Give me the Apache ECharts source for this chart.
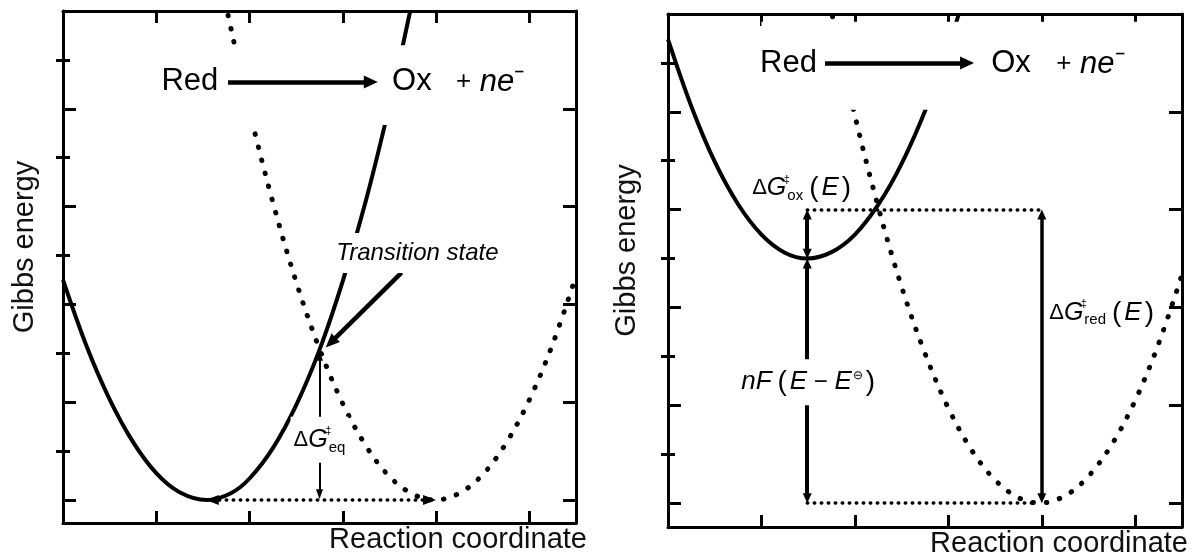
<!DOCTYPE html>
<html>
<head>
<meta charset="utf-8">
<script src="https://cdn.jsdelivr.net/npm/echarts@6/dist/echarts.min.js"></script>
<style>
html,body{margin:0;padding:0;background:#fff;}
#chart{width:1203px;height:559px;}
</style>
</head>
<body>
<div id="chart"></div>
<script>
// ---- data (reaction coordinate, Gibbs energy) ----
const leftRedCurve = [[0,4.50],[0.25,3.16],[0.5,2.06],[0.75,1.19],[1.0,0.55],[1.25,0.16],[1.54,0],[1.8,0.14],[2.0,0.44],[2.25,1.06],[2.5,1.94],[2.75,3.07],[3.0,4.48],[3.25,6.14],[3.5,8.07],[3.72,9.98]];
const leftOxCurve = [[1.77,9.91],[2.0,7.96],[2.25,6.09],[2.5,4.46],[2.75,3.09],[3.0,1.97],[3.25,1.10],[3.5,0.48],[3.75,0.12],[3.99,0],[4.25,0.14],[4.5,0.52],[4.75,1.16],[5.0,2.05],[5.25,3.19],[5.5,4.58]];
const rightRedCurve = [[0,9.48],[0.25,8.11],[0.5,6.98],[0.75,6.11],[1.0,5.49],[1.25,5.12],[1.49,5.0],[1.75,5.13],[2.0,5.49],[2.25,6.10],[2.5,6.94],[2.77,8.11],[3.0,9.33],[3.11,9.99]];
const rightOxCurve = [[1.76,9.95],[2.0,7.92],[2.25,6.05],[2.5,4.42],[2.75,3.06],[3.0,1.94],[3.25,1.08],[3.5,0.47],[3.75,0.11],[3.98,0],[4.25,0.15],[4.5,0.55],[4.75,1.20],[5.0,2.10],[5.25,3.26],[5.5,4.67]];

// key energy levels / positions
const leftRedMin = [1.54, 0];
const leftOxMin = [3.99, 0];
const leftTS = [2.75, 3.07];
const rightRedMin = [1.49, 5];
const rightOxMin = [3.99, 0];
const rightCross = 6;

// axis ticks
const xTicks = [1, 2, 3, 4, 5];
const yMajorTicks = [0, 2, 4, 6, 8];
const yMinorTicks = [1, 3, 5, 7, 9];

// texts
const yName = 'Gibbs energy';
const xName = 'Reaction coordinate';

const FONT = '"Liberation Sans", Arial, Helvetica, sans-serif';
const BLACK = '#000';

const chart = echarts.init(document.getElementById('chart'), null, {renderer: 'canvas'});

function xAxes(grid, nameGap) {
  const base = {
    type: 'value', gridIndex: grid, min: 0, max: 5.5,
    axisLabel: {show: false}, splitLine: {show: false},
    axisLine: {show: true, onZero: false, lineStyle: {color: BLACK, width: 3}},
    axisTick: {show: true, inside: true, length: 12, customValues: xTicks, lineStyle: {color: BLACK, width: 3}}
  };
  return [
    Object.assign({}, base, {position: 'bottom', name: xName, nameLocation: 'end', nameGap: nameGap,
      nameTextStyle: {fontFamily: FONT, fontSize: 29, color: '#111', align: 'right', verticalAlign: 'top', padding: [2, 0, 0, 0]}}),
    Object.assign({}, base, {position: 'top'})
  ];
}
function yAxes(grid, min, nameGap) {
  const base = {
    type: 'value', gridIndex: grid, min: min, max: 10,
    axisLabel: {show: false}, splitLine: {show: false}
  };
  const major = {show: true, inside: true, length: 13, customValues: yMajorTicks, lineStyle: {color: BLACK, width: 3}};
  const minor = {show: true, inside: true, length: 7, customValues: yMinorTicks, lineStyle: {color: BLACK, width: 3}};
  return [
    Object.assign({}, base, {position: 'left', axisLine: {show: true, onZero: false, lineStyle: {color: BLACK, width: 3}}, axisTick: major,
      name: yName, nameLocation: 'middle', nameGap: nameGap,
      nameTextStyle: {fontFamily: FONT, fontSize: 29, color: '#111', padding: [0, 0, 0, 40]}}),
    Object.assign({}, base, {position: 'left', axisLine: {show: false}, axisTick: minor}),
    Object.assign({}, base, {position: 'right', axisLine: {show: true, onZero: false, lineStyle: {color: BLACK, width: 3}}, axisTick: major}),
    Object.assign({}, base, {position: 'right', axisLine: {show: false}, axisTick: minor})
  ];
}

const solidStyle = {color: BLACK, width: 4};
const dotStyle = {color: BLACK, width: 5, type: [0.5, 13], cap: 'round'};
const fineDot = {color: BLACK, width: 3.5, type: [0.5, 6.5], cap: 'round'};

function seg(a, b, style, s1, s2, size) {
  return [
    {coord: a, symbol: s1, symbolSize: size, lineStyle: style},
    {coord: b, symbol: s2, symbolSize: size}
  ];
}

const baseRich = {
  d: {fontFamily: FONT, fontSize: 22, color: BLACK, lineHeight: 34},
  g: {fontFamily: FONT, fontSize: 25, fontStyle: 'italic', color: BLACK, lineHeight: 34},
  s: {fontFamily: FONT, fontSize: 11, color: BLACK, lineHeight: 34, verticalAlign: 'top', width: 1, padding: [3, 0, 0, 0]},
  b: {fontFamily: FONT, fontSize: 15, color: BLACK, lineHeight: 34, verticalAlign: 'bottom', padding: [0, 0, 2, 0]},
  q: {fontFamily: FONT, fontSize: 28, color: BLACK, lineHeight: 34, padding: [0, 3, 0, 6]},
  q2: {fontFamily: FONT, fontSize: 28, color: BLACK, lineHeight: 34, padding: [0, 0, 0, 3]},
  e: {fontFamily: FONT, fontSize: 26, fontStyle: 'italic', color: BLACK, lineHeight: 34},
  i: {fontFamily: FONT, fontSize: 26, fontStyle: 'italic', color: BLACK, lineHeight: 34},
  m: {fontFamily: FONT, fontSize: 24, color: BLACK, lineHeight: 34},
  o: {fontFamily: FONT, fontSize: 12, color: BLACK, lineHeight: 34, verticalAlign: 'top', padding: [4, 0, 0, 1]},
  p: {fontFamily: FONT, fontSize: 26, color: BLACK},
  n: {fontFamily: FONT, fontSize: 31, fontStyle: 'italic', color: BLACK}
};

function txt(coord, text, extra) {
  return {
    coord: coord,
    symbol: 'circle', symbolSize: 1, itemStyle: {color: 'rgba(0,0,0,0)'},
    label: Object.assign({show: true, position: 'inside', formatter: text, color: BLACK, fontFamily: FONT, fontSize: 31, rich: baseRich}, extra || {})
  };
}

function panelSeries(g, red, ox, cfg) {
  const xi = g * 2, yi = g * 4;
  return [
    {type: 'line', xAxisIndex: xi, yAxisIndex: yi, data: red, smooth: 0.35, showSymbol: false, symbol: 'none', lineStyle: solidStyle, z: 2, silent: true},
    {type: 'line', xAxisIndex: xi, yAxisIndex: yi, data: ox, smooth: 0.35, showSymbol: false, symbol: 'none', lineStyle: dotStyle, z: 2, silent: true},
    {
      type: 'line', xAxisIndex: xi, yAxisIndex: yi, data: [], z: 6, silent: true,
      markArea: {silent: true, z: 4, itemStyle: {color: '#fff'}, label: {show: false}, data: [cfg.band]},
      markLine: {silent: true, z: 6, label: {show: false}, animation: false, data: cfg.lines},
      markPoint: {silent: true, z: 8, animation: false, data: cfg.texts}
    }
  ];
}

const leftCfg = {
  band: [{coord: [0.95, 7.67]}, {coord: [5.1, 9.3]}],
  lines: [
    seg([1.77, 8.55], [3.30, 8.55], {color: BLACK, width: 4.5, type: 'solid'}, 'none', 'triangle', [13, 14]),
    seg([3.63, 4.65], [2.87, 3.22], {color: BLACK, width: 4.5, type: 'solid'}, 'none', 'triangle', [12, 14]),
    seg([leftTS[0], leftTS[1] - 0.12], [leftTS[0], 0.12], {color: BLACK, width: 2, type: 'solid'}, 'triangle', 'triangle', [7, 10]),
    seg([leftRedMin[0] + 0.06, 0], [leftOxMin[0] - 0.06, 0], fineDot, 'triangle', 'triangle', [10, 13])
  ],
  texts: [
    txt([1.36, 8.55], 'Red'),
    txt([3.74, 8.55], 'Ox'),
    txt([4.58, 8.55], '{p|+} {n|ne}⁻'),
    txt([3.80, 5.05], 'Transition state', {fontStyle: 'italic', fontSize: 24, backgroundColor: '#fff', padding: [8, 2]}),
    txt([2.75, 1.23], '{d|Δ}{g|G}{s|‡}{b|eq}', {backgroundColor: '#fff', padding: [6, 3]})
  ]
};

const rightCfg = {
  band: [{coord: [1.0, 8.04]}, {coord: [5.1, 9.84]}],
  lines: [
    seg([1.68, 9.0], [3.20, 9.0], {color: BLACK, width: 4.5, type: 'solid'}, 'none', 'triangle', [13, 14]),
    seg([rightRedMin[0], rightCross], [rightOxMin[0], rightCross], fineDot, 'none', 'none', 1),
    seg([rightRedMin[0], 0], [rightOxMin[0] - 0.05, 0], fineDot, 'none', 'none', 1),
    seg([rightRedMin[0], rightCross - 0.1], [rightRedMin[0], rightRedMin[1] + 0.1], {color: BLACK, width: 4, type: 'solid'}, 'triangle', 'triangle', [9, 10]),
    seg([rightRedMin[0], rightRedMin[1] - 0.1], [rightRedMin[0], 0.1], {color: BLACK, width: 4, type: 'solid'}, 'triangle', 'triangle', [9, 10]),
    seg([4.0, rightCross - 0.1], [4.0, 0.1], {color: BLACK, width: 3.5, type: 'solid'}, 'triangle', 'triangle', [9, 10])
  ],
  texts: [
    txt([1.29, 8.98], 'Red'),
    txt([3.67, 8.98], 'Ox'),
    txt([4.52, 8.98], '{p|+} {n|ne}⁻'),
    txt([1.43, 6.44], '{d|Δ}{g|G}{s|‡}{b|ox}{q|(}{e|E}{q2|)}'),
    txt([4.64, 3.89], '{d|Δ}{g|G}{s|‡}{b|red}{q|(}{e|E}{q2|)}'),
    txt([1.50, 2.47], '{i|nF}{q|(}{e|E}{m| − }{e|E}{o|⊖}{q2|)}', {backgroundColor: '#fff', padding: [6, 3]})
  ]
};

const option = {
  animation: false,
  backgroundColor: '#fff',
  grid: [
    {left: 63, top: 11, width: 513, height: 512, containLabel: false},
    {left: 668, top: 14, width: 514, height: 513, containLabel: false}
  ],
  xAxis: xAxes(0, 11).concat(xAxes(1, 6)),
  yAxis: yAxes(0, -0.47, 24).concat(yAxes(1, -0.49, 27)),
  series: panelSeries(0, leftRedCurve, leftOxCurve, leftCfg).concat(panelSeries(1, rightRedCurve, rightOxCurve, rightCfg))
};
chart.setOption(option);
</script>
</body>
</html>
